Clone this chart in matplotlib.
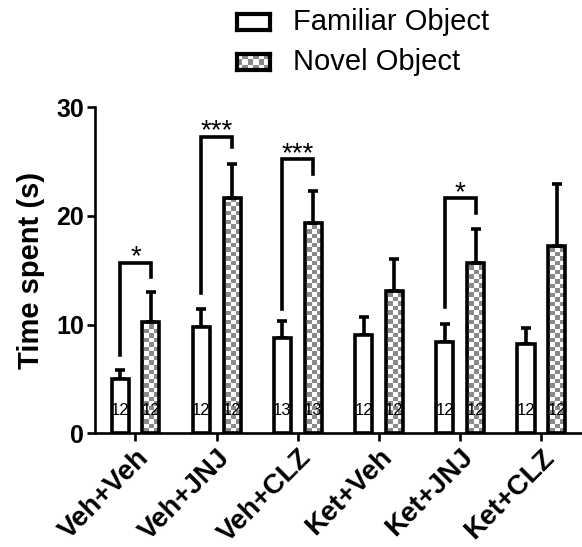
import numpy as np
import matplotlib
matplotlib.use('Agg')
import matplotlib.pyplot as plt

plt.rcParams['font.family'] = ['Liberation Sans', 'DejaVu Sans']

# data
groups = ['Veh+Veh', 'Veh+JNJ', 'Veh+CLZ', 'Ket+Veh', 'Ket+JNJ', 'Ket+CLZ']
familiar = [5.0, 9.8, 8.8, 9.0, 8.35, 8.2]
familiar_sem = [0.8, 1.6, 1.5, 1.7, 1.7, 1.5]
novel = [10.2, 21.6, 19.3, 13.1, 15.7, 17.2]
novel_sem = [2.8, 3.2, 3.0, 2.9, 3.1, 5.7]
n_familiar = [12, 12, 13, 12, 12, 12]
n_novel = [12, 12, 13, 12, 12, 12]

# significance brackets: group, top, left foot, right foot, label
sig_group = [0, 1, 2, 4]
sig_top = [15.7, 27.3, 25.2, 21.6]
sig_left = [7.2, 12.9, 11.4, 11.6]
sig_right = [14.4, 26.3, 23.9, 20.3]
sig_label = ['*', '***', '***', '*']

lw = 2.6
off = 0.19
width = 0.21
gray = '#8a8a8a'


def checker(ny, nx):
    yy, xx = np.indices((ny, nx))
    return (xx + yy) % 2


fig = plt.figure(figsize=(5.82, 5.47), dpi=100)
ax = fig.add_axes([0.163, 0.208, 0.837, 0.596])
x = np.arange(len(groups))

fam_bars = ax.bar(x - off, familiar, width, facecolor='white', edgecolor='black',
                  linewidth=lw, zorder=3)
nov_bars = ax.bar(x + off, novel, width, facecolor='none', edgecolor='black',
                  linewidth=lw, zorder=4)

# checkerboard fill inside novel bars
cmap = matplotlib.colors.ListedColormap(['white', gray])
pattern = checker(72, 108)
for b in nov_bars:
    im = ax.imshow(pattern, cmap=cmap, extent=(-0.5, 5.5, 0, 30), origin='lower',
                   interpolation='nearest', aspect='auto', zorder=2)
    im.set_clip_path(b)

ax.errorbar(x - off, familiar, yerr=[np.zeros(6), familiar_sem], fmt='none',
            ecolor='black', elinewidth=lw, capsize=3.5, capthick=lw, zorder=2)
ax.errorbar(x + off, novel, yerr=[np.zeros(6), novel_sem], fmt='none',
            ecolor='black', elinewidth=lw, capsize=3.5, capthick=lw, zorder=2)

for i in range(len(groups)):
    ax.text(x[i] - off, 2.1, str(n_familiar[i]), ha='center', va='center',
            fontsize=12, zorder=5)
    ax.text(x[i] + off, 2.1, str(n_novel[i]), ha='center', va='center',
            fontsize=12, zorder=5)

for g, top, yl, yr, lab in zip(sig_group, sig_top, sig_left, sig_right, sig_label):
    xl, xr = g - off, g + off
    ax.plot([xl, xl, xr, xr], [yl, top, top, yr], color='black', lw=lw,
            solid_joinstyle='miter', clip_on=False, zorder=5)
    ax.text(g, top - 0.15, lab, ha='center', va='baseline', fontsize=20,
            clip_on=False)

ax.set_xlim(-0.5, 5.5)
ax.set_ylim(0, 30)
ax.set_yticks([0, 10, 20, 30])
ax.set_xticks(x)
ax.set_xticklabels(groups, rotation=45, ha='right', rotation_mode='anchor',
                   fontsize=20, fontweight='bold')
for t in ax.get_yticklabels():
    t.set_fontsize(18)
    t.set_fontweight('bold')
ax.set_ylabel('Time spent (s)', fontsize=21, fontweight='bold', labelpad=8)

for s in ['top', 'right']:
    ax.spines[s].set_visible(False)
for s in ['left', 'bottom']:
    ax.spines[s].set_linewidth(1.9)
ax.tick_params(axis='both', direction='out', length=6, width=1.9, pad=2)

# legend drawn by hand
W, H = 582, 547
leg_x = [237, 237]
leg_y = [22, 62]
leg_text = ['Familiar Object', 'Novel Object']
for k in range(2):
    lax = fig.add_axes([leg_x[k] / W, 1 - (leg_y[k] + 8) / H, 33 / W, 16 / H])
    if k == 1:
        lax.imshow(checker(3, 6), cmap=cmap, interpolation='nearest',
                   aspect='auto', extent=(0, 1, 0, 1))
    lax.set_xticks([])
    lax.set_yticks([])
    for s in lax.spines.values():
        s.set_linewidth(3)
    fig.text(293 / W, 1 - leg_y[k] / H, leg_text[k], fontsize=21,
             ha='left', va='center')

fig.savefig('out.png', dpi=100)
